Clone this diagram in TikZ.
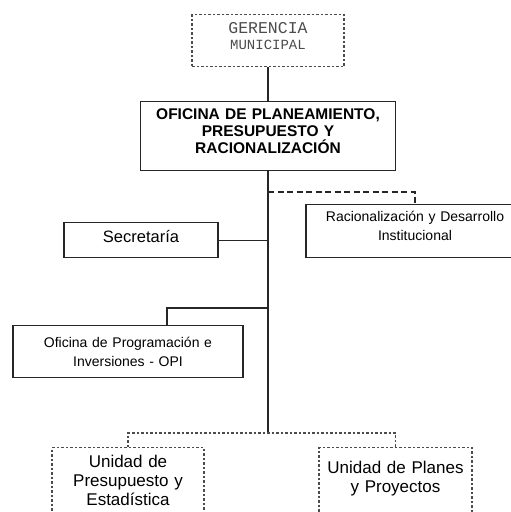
\documentclass[tikz,border=0pt]{standalone}
\usepackage{fontspec}
\setmainfont{Liberation Sans}
\setmonofont{Liberation Mono}
\usetikzlibrary{calc,positioning}
\tikzset{
    box/.style={draw=black!85, line width=1.1pt, inner sep=0pt, anchor=north, align=center},
    dotbox/.style={box, draw=black!70, dash pattern=on 2.5pt off 2pt},
    link/.style={draw=black!85, line width=1.1pt},
    dashlink/.style={link, dash pattern=on 6pt off 3.5pt},
    dotlink/.style={link, draw=black!70, dash pattern=on 2.5pt off 2pt}
}

\begin{document}
\begin{tikzpicture}[x=1pt, y=-1pt]
\useasboundingbox (0,0) rectangle (511,512);
% boxes
\node[dotbox, text width=152pt, text height=19pt, text depth=33pt, text=black!70,
      font=\ttfamily\fontsize{14}{16}\selectfont] (ger) at (268,14)
      {{\fontsize{16.5}{16}\selectfont GERENCIA}\\MUNICIPAL};
\node[box, text width=255pt, text height=18pt, text depth=51pt,
      font=\bfseries\fontsize{15.5}{17}\selectfont] (ofi) at (268,101)
      {OFICINA DE PLANEAMIENTO,\\PRESUPUESTO Y\\RACIONALIZACIÓN};
\node[box, text width=154pt, text height=20pt, text depth=15pt,
      font=\fontsize{16.5}{19}\selectfont] (sec) at (141,222) {Secretaría};
\node[box, text width=218pt, text height=16.5pt, text depth=36.5pt,
      font=\fontsize{14}{19}\selectfont] (rac) at (415,204)
      {Racionalización y Desarrollo\\Institucional};
\node[box, text width=230pt, text height=21.5pt, text depth=30.5pt,
      font=\fontsize{14}{19.5}\selectfont] (opi) at (128,325)
      {Oficina de Programación e\\Inversiones - OPI};
\node[dotbox, text width=152pt, text height=20pt, text depth=70pt,
      font=\fontsize{17}{19}\selectfont] (upe) at (128,447)
      {Unidad de\\Presupuesto y\\Estadística};
\node[dotbox, text width=153pt, text height=26pt, text depth=70pt,
      font=\fontsize{17}{19}\selectfont] (upp) at (395.5,447)
      {Unidad de Planes\\y Proyectos};
% connectors
\coordinate (jrac) at (268,192);
\coordinate (jopi) at (268,308);
\coordinate (kopi) at (167,308);
\coordinate (tend) at (268,433);
\draw[link] (ger.south) -- (ofi.north);
\draw[link] (ofi.south) -- (tend);
\draw[dashlink] (jrac) -| (rac.north);
\draw[link] (sec.east) -- (sec.east -| ofi.south);
\draw[link] (jopi) -| (kopi |- opi.north);
\draw[dotlink] (upe.north) |- (tend) -| (upp.north);
\end{tikzpicture}
\end{document}
